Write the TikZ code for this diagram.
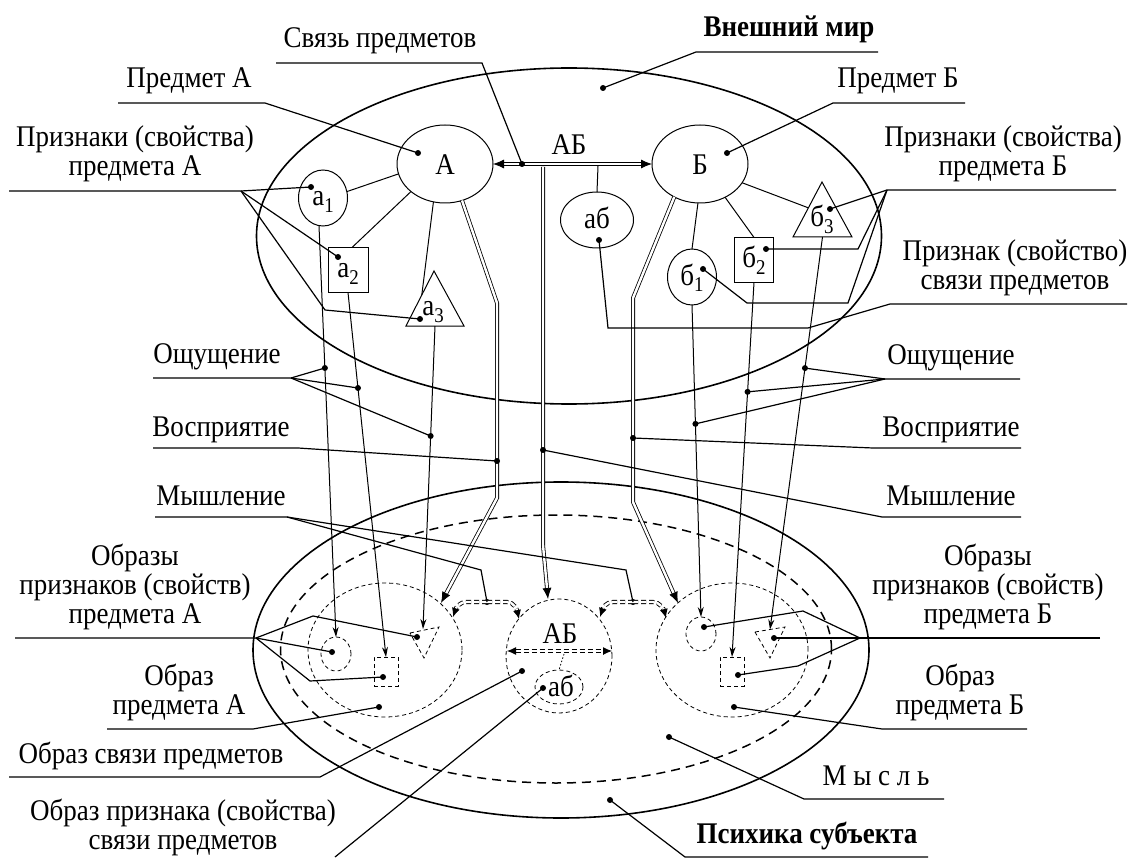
\documentclass[tikz,border=0pt]{standalone}
\usepackage{fontspec}
\setmainfont{Liberation Serif}[FakeStretch=0.9]
\usetikzlibrary{arrows.meta,shapes.geometric,calc}
\newcommand\lidx[1]{\raisebox{-0.45ex}{\fontsize{21}{21}\selectfont #1}}
\begin{document}
\begin{tikzpicture}[x=1pt,y=-1pt,
  every node/.style={font=\fontsize{30}{29}\selectfont, inner sep=0pt, outer sep=0pt},
  txt/.style={align=center, anchor=base},
  lbl/.style={anchor=base},
  lead/.style={line width=1.2pt},
  bigell/.style={draw, ellipse, line width=1.6pt},
  obj/.style={draw, line width=1pt},
  imgs/.style={draw, line width=0.8pt, dash pattern=on 4pt off 3pt},
  dot/.style={circle, fill, minimum size=6pt},
  dbl/.style={double, double distance=2.4pt, line width=0.8pt},
  tip/.style={-{Stealth[length=10pt,width=6pt]}},
  dbltip/.style={-{Latex[length=11pt,width=9pt]}},
  thk/.style={double, double distance=2.4pt, line width=0.9pt, dash pattern=on 5pt off 3pt},
]
\useasboundingbox (0,0) rectangle (1133,861);
\fill[white] (0,0) rectangle (1133,861);
% ---------------- big regions
\node[bigell, minimum width=625, minimum height=336] (world) at (569,236) {};
\node[bigell, minimum width=616, minimum height=336] (psy) at (561,650) {};
\node[draw, ellipse, line width=1.5pt, dash pattern=on 9pt off 6pt, minimum width=551, minimum height=268] (mind) at (556,649) {};

% ---------------- outer world objects
\node[obj, ellipse, minimum width=96, minimum height=78] (A) at (445,164) {};
\node[lbl] at (445,175) {А};
\node[obj, ellipse, minimum width=96, minimum height=78] (B) at (700,164) {};
\node[lbl] at (700,175) {Б};
\node[obj, ellipse, minimum width=73, minimum height=56] (ab) at (597,220) {};
\node[lbl] at (597,229) {аб};
\node[obj, ellipse, minimum width=49, minimum height=56] (a1) at (323,198) {};
\node[lbl] at (323,206) {а\lidx{1}};
\node[obj, rectangle, minimum width=40, minimum height=45] (a2) at (348,270) {};
\node[lbl] at (348,278) {а\lidx{2}};
\coordinate (a3t) at (434,271); \coordinate (a3l) at (406,326); \coordinate (a3r) at (464,326);
\draw[obj] (a3t) -- (a3l) -- (a3r) -- cycle;
\node[lbl] (a3) at (433,316) {а\lidx{3}};
\node[obj, ellipse, minimum width=49, minimum height=56] (b1) at (692,277) {};
\node[lbl] at (692,285) {б\lidx{1}};
\node[obj, rectangle, minimum width=39, minimum height=45] (b2) at (754,260) {};
\node[lbl] at (754,268) {б\lidx{2}};
\coordinate (b3t) at (822,182); \coordinate (b3l) at (793,237); \coordinate (b3r) at (852,237);
\draw[obj] (b3t) -- (b3l) -- (b3r) -- cycle;
\node[lbl] (b3) at (822,227) {б\lidx{3}};

\draw[obj] (A.192) -- (a1.15);
\draw[obj] (A.219) -- ([xshift=4pt]a2.north);
\draw[obj] (A.253) -- ($(a3t)!0.436!(a3l)$);
\draw[obj] (B.267) -- (b1.north);
\draw[obj] (B.307) -- (b2.north);
\draw[obj] (B.336) -- ($(b3t)!0.47!(b3l)$);

% connection of objects
\draw[dbl, {Latex[length=11pt,width=9pt]}-{Latex[length=11pt,width=9pt]}] (A.east) -- (B.west);
\node[lbl] (ABt) at (569,155) {АБ};
\coordinate (jab) at (598,166);
\draw[obj] (jab) -- (ab.north);

% ---------------- images in the psyche
\node[imgs, ellipse, minimum width=154, minimum height=134] (imA) at (385,650) {};
\node[imgs, ellipse, minimum width=106, minimum height=114] (imAB) at (559,656) {};
\node[imgs, ellipse, minimum width=152, minimum height=134] (imB) at (732,650) {};
\node[imgs, ellipse, minimum width=30, minimum height=34] (ia1) at (336,654) {};
\node[imgs, rectangle, minimum width=24, minimum height=29] (ia2) at (386,671.5) {};
\draw[imgs] (410,633) -- (439,627) -- (424,658) -- cycle;
\coordinate (ia3) at (423,629);
\node[imgs, ellipse, minimum width=30, minimum height=34] (ib1) at (701,634) {};
\node[imgs, rectangle, minimum width=24, minimum height=29] (ib2) at (732,671.5) {};
\draw[imgs] (755,632) -- (785,627) -- (770,658) -- cycle;
\coordinate (ib3) at (770,629.5);
\node[imgs, ellipse, minimum width=48, minimum height=34] (iab) at (559,687) {};
\node[lbl] at (561,696) {аб};
\node[lbl] (ABi) at (560,643) {АБ};
\coordinate (iABl) at (507,651); \coordinate (iABr) at (612,651);
\draw[thk, {Latex[length=9pt,width=8pt]}-{Latex[length=9pt,width=8pt]}] (iABl) -- (iABr);
\draw[line width=0.8pt, dash pattern=on 1.5pt off 2pt] (564,654) -- (iab.north);

% ---------------- sensation lines
\coordinate (la1) at ([xshift=-4pt]a1.south);
\coordinate (la3) at (435,326);
\coordinate (lb3) at (822.5,237);
\draw[line width=1pt, tip] (la1) -- (ia1.north);
\draw[line width=1pt, tip] (a2.south) -- (ia2.north);
\draw[line width=1pt, tip] (la3) -- (ia3);
\draw[line width=1pt, tip] (b1.south) -- (ib1.north);
\draw[line width=1pt, tip] (b2.south) -- (ib2.north);
\draw[line width=1pt, tip] (lb3) -- (ib3);

% ---------------- perception double lines
\draw[dbl, dbltip] (A.295) -- (497,303) -- (497,498) -- (441,603);
\draw[dbl, dbltip] (543,167) -- (543,545) -- (548,599);
\draw[dbl, dbltip] (B.232) -- (633,298) -- (633,502) -- (678,603);

% ---------------- thinking arrows
\node[dot] (m1) at (487,602) {};
\node[dot] (m2) at (633,602) {};
\draw[thk, -{Latex[length=9pt,width=8pt]}] (m1.center) -- (467,602) .. controls (459,602) and (456,608) .. (453,617);
\draw[thk, -{Latex[length=9pt,width=8pt]}] (m1.center) -- (507,602) .. controls (514,602) and (517,610) .. (519,619);
\draw[thk, -{Latex[length=9pt,width=8pt]}] (m2.center) -- (613,602) .. controls (606,602) and (603,608) .. (600,617);
\draw[thk, -{Latex[length=9pt,width=8pt]}] (m2.center) -- (653,602) .. controls (660,602) and (664,610) .. (666,618);

% ---------------- dots
\node[dot] (dW) at (603,88) {};
\node[dot] (dA) at (418,153) {};
\node[dot] (dB) at (727,153) {};
\node[dot] (dAB) at (522,164) {};
\node[dot] (dab) at (599,240) {};
\node[dot] (da1) at (311,187) {};
\node[dot] (da2) at (338,257) {};
\node[dot] (da3) at (420,319) {};
\node[dot] (db1) at (703,269) {};
\node[dot] (db2) at (766,249) {};
\node[dot] (db3) at (830,209) {};
\node[dot] (s1) at ($(la1)!0.3455!(ia1.north)$) {};
\node[dot] (s2) at ($(a2.south)!0.262!(ia2.north)$) {};
\node[dot] (s3) at ($(la3)!0.363!(ia3)$) {};
\node[dot] (s4) at ($(b1.south)!0.381!(ib1.north)$) {};
\node[dot] (s5) at ($(b2.south)!0.292!(ib2.north)$) {};
\node[dot] (s6) at ($(lb3)!0.334!(ib3)$) {};
\node[dot] (pA) at (497,461) {};
\node[dot] (pB) at (633,438) {};
\node[dot] (pAB) at (543,450) {};
\node[dot] (dia1) at (332,652) {};
\node[dot] (dia2) at (383,677) {};
\node[dot] (dia3) at (417,637) {};
\node[dot] (dib1) at (704,627) {};
\node[dot] (dib2) at (738,675) {};
\node[dot] (dib3) at (774,638) {};
\node[dot] (dimA) at (379,707) {};
\node[dot] (dimB) at (734,707) {};
\node[dot] (dimAB) at (522,671) {};
\node[dot] (diab) at (543,688) {};
\node[dot] (dmind) at (669,737) {};
\node[dot] (dpsy) at (610,800) {};

% ---------------- labels (left)
\node[lbl] (tLink) at (380,48) {Связь предметов};
\draw[lead] (276,63) -- (482,63) -- (dAB.center);
\node[lbl] (tPA) at (189,88) {Предмет А};
\draw[lead] (118,103) -- (265,103) -- (dA.center);
\node[txt] (tPrA) at (135,176) {Признаки (свойства)\\предмета А};
\coordinate (apA) at (241,191);
\draw[lead] (9,191) -- (apA) -- (da1.center);
\draw[lead] (apA) -- (da2.center);
\draw[lead] (apA) -- (325,310) -- (da3.center);
\node[lbl] (tSensL) at (217,363) {Ощущение};
\coordinate (apSL) at (291,378);
\draw[lead] (153,378) -- (apSL) -- (s1.center);
\draw[lead] (apSL) -- (s2.center);
\draw[lead] (apSL) -- (s3.center);
\node[lbl] (tPercL) at (221,436) {Восприятие};
\draw[lead] (153,448) -- (298,448) -- (pA.center);
\node[lbl] (tThL) at (221,505) {Мышление};
\coordinate (apTL) at (287,517);
\draw[lead] (155,517) -- (apTL) -- (481,570) -- (m1.center);
\draw[lead] (apTL) -- (626,570) -- (m2.center);
\node[txt] (tImgPrA) at (135,623) {Образы\\признаков (свойств)\\предмета А};
\coordinate (apIA) at (256,638);
\draw[lead] (15,638) -- (apIA) -- (313,616) -- (dia3.center);
\draw[lead] (apIA) -- (dia1.center);
\draw[lead] (apIA) -- (310,681) -- (dia2.center);
\node[txt] (tImA) at (179,714) {Образ\\предмета А};
\draw[lead] (107,729) -- (253,729) -- (dimA.center);
\node[lbl] (tImLink) at (151,763) {Образ связи предметов};
\draw[lead] (9,777) -- (320,777) -- (dimAB.center);
\node[txt] (tImLinkPr) at (183,849) {Образ признака (свойства)\\связи предметов};
\coordinate (fe) at (335,857);
\draw[lead] (fe) -- (diab.center);

% ---------------- labels (right)
\node[lbl] (tWorld) at (789,37) {\bfseries Внешний мир};
\draw[lead] (878,52) -- (696,52) -- (dW.center);
\node[lbl] (tPB) at (898,88) {Предмет Б};
\draw[lead] (965,103) -- (833,103) -- (dB.center);
\node[txt] (tPrB) at (1003,176) {Признаки (свойства)\\предмета Б};
\coordinate (apB) at (887,190);
\draw[lead] (1116,190) -- (apB) -- (db3.center);
\draw[lead] (apB) -- (858,249) -- (db2.center);
\draw[lead] (apB) -- (848,303) -- (747,303) -- (db1.center);
\node[txt] (tLinkPr) at (1015,290) {Признак (свойство)\\связи предметов};
\draw[lead] (1127,304) -- (890,304) -- (808,328) -- (608,328) -- (dab.center);
\node[lbl] (tSensR) at (951,364) {Ощущение};
\coordinate (apSR) at (885,379);
\draw[lead] (1020,379) -- (apSR) -- (s6.center);
\draw[lead] (apSR) -- (s5.center);
\draw[lead] (apSR) -- (s4.center);
\node[lbl] (tPercR) at (951,436) {Восприятие};
\draw[lead] (1021,448) -- (873,448) -- (pB.center);
\node[lbl] (tThR) at (951,505) {Мышление};
\draw[lead] (1021,517) -- (882,517) -- (pAB.center);
\node[txt] (tImgPrB) at (988,623) {Образы\\признаков (свойств)\\предмета Б};
\coordinate (apIB) at (860,638);
\draw[lead] (1100,638) -- (apIB) -- (dib3.center);
\draw[lead] (apIB) -- (803,611) -- (dib1.center);
\draw[lead] (apIB) -- (798,666) -- (dib2.center);
\node[txt] (tImB) at (960,714) {Образ\\предмета Б};
\draw[lead] (1027,729) -- (882,729) -- (dimB.center);
\node[lbl] (tMind) at (876,785) {М ы с л ь};
\draw[lead] (944,799) -- (804,799) -- (dmind.center);
\node[lbl] (tPsy) at (807,843) {\bfseries Психика субъекта};
\draw[lead] (928,857) -- (685,857) -- (dpsy.center);
\end{tikzpicture}
\end{document}
